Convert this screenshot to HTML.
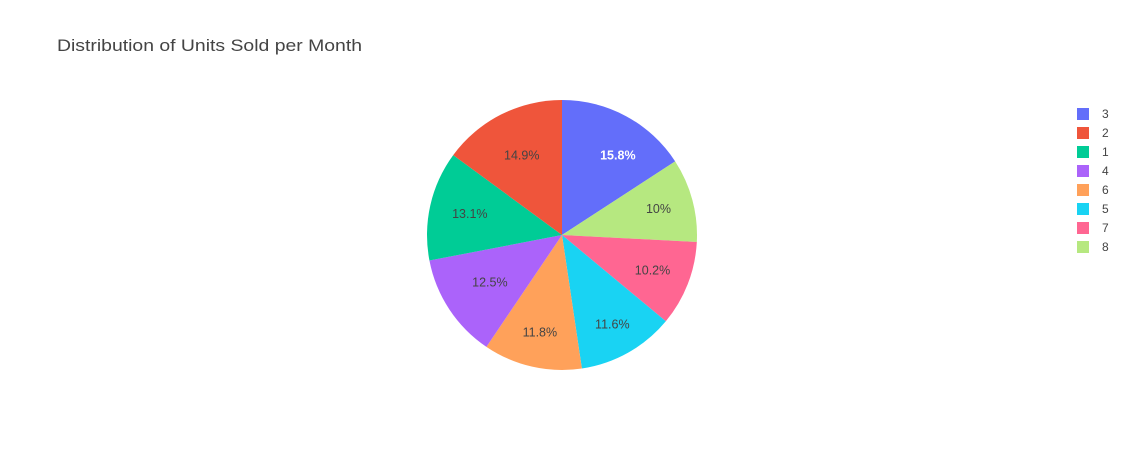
<!DOCTYPE html>
<html><head><meta charset="utf-8"><style>
body{margin:0;background:#fff;font-family:"Liberation Sans",Arial,sans-serif;}
</style></head><body>
<svg width="1128" height="450" id="svg">
<rect width="1128" height="450" fill="#fff"/>
<text x="57" y="51" font-size="17" fill="#444" textLength="305" lengthAdjust="spacingAndGlyphs">Distribution of Units Sold per Month</text>
<g id="slices"></g><g id="legend"></g>
</svg>
<script>
const labels=["3","8","7","5","6","4","1","2"];
const values=[15.8,10,10.2,11.6,11.8,12.5,13.1,14.9];
const legendOrder=["3","2","1","4","6","5","7","8"];
const colors={"3":"#636efa","2":"#EF553B","1":"#00cc96","4":"#ab63fa","6":"#FFA15A","5":"#19d3f3","7":"#FF6692","8":"#B6E880"};
const labelRadius=[0.72,0.74,0.72,0.76,0.74,0.64,0.70,0.66];
const labelShiftDeg=[6.6,0,0,0,0,0,0,0];
const cx=562,cy=235,r=135,NS="http://www.w3.org/2000/svg";
const total=values.reduce((a,b)=>a+b,0);
const g=document.getElementById('slices');
let a0=0;
function pt(a,rr){return [cx+rr*Math.sin(a),cy-rr*Math.cos(a)];}
values.forEach((v,i)=>{
 const a1=a0+v/total*2*Math.PI;
 const p0=pt(a0,r),p1=pt(a1,r);
 const p=document.createElementNS(NS,'path');
 p.setAttribute('d',`M${cx},${cy}L${p0[0]},${p0[1]}A${r},${r} 0 ${a1-a0>Math.PI?1:0} 1 ${p1[0]},${p1[1]}Z`);
 p.setAttribute('fill',colors[labels[i]]);
 
 
 g.appendChild(p);
 const m=(a0+a1)/2+labelShiftDeg[i]*Math.PI/180,tp=pt(m,r*labelRadius[i]);
 const t=document.createElementNS(NS,'text');
 t.setAttribute('x',tp[0]);t.setAttribute('y',tp[1]+4);t.setAttribute('text-anchor','middle');
 t.setAttribute('font-size','12.5');t.setAttribute('fill',labels[i]==="3"?"#fff":"#444");
 if(labels[i]==="3")t.setAttribute('font-weight','bold');
 t.textContent=(Math.round(v/total*1000)/10)+'%';
 
 
 g.appendChild(t);
 a0=a1;
});
const lg=document.getElementById('legend');
legendOrder.forEach((l,i)=>{
 const y=114+i*19;
 const e=document.createElementNS(NS,'g');
 
 
 e.innerHTML=`<rect x="1077" y="${y-6}" width="12" height="12" fill="${colors[l]}"/><text x="1102" y="${y+4}" font-size="12" fill="#444">${l}</text>`;
 lg.appendChild(e);
});
</script>
</body></html>
